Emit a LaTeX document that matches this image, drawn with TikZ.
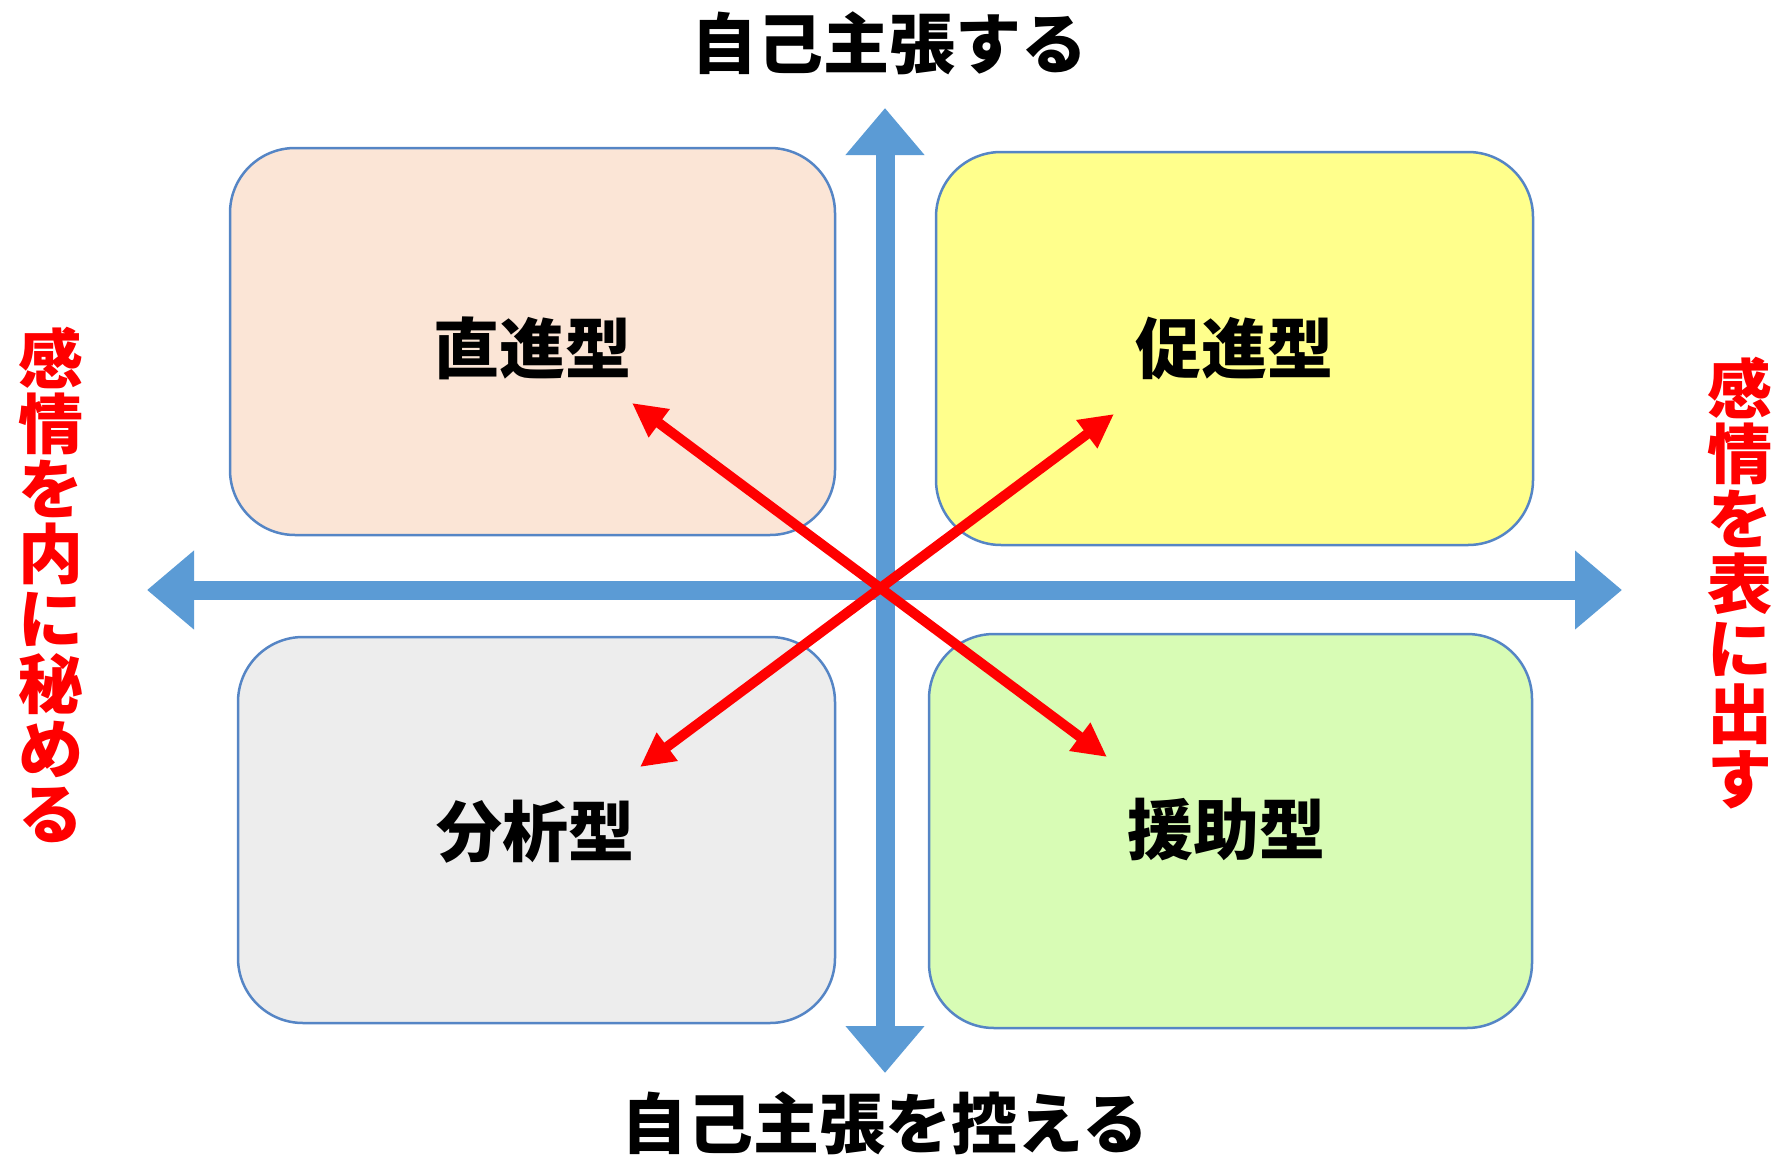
\documentclass[tikz,border=0pt]{standalone}
\usepackage{fontspec}
\newfontfamily\jp{Noto Sans CJK JP}
\usetikzlibrary{arrows.meta}
\definecolor{axisblue}{HTML}{5B9BD5}
\definecolor{boxline}{HTML}{5585C5}
\definecolor{peach}{HTML}{FBE5D6}
\definecolor{lyellow}{HTML}{FFFF8C}
\definecolor{lgray}{HTML}{EDEDED}
\definecolor{lgreen}{HTML}{D8FCB5}
\definecolor{lred}{HTML}{FF0000}
\begin{document}
\begin{tikzpicture}[x=1pt,y=-1pt,
  quad/.style={draw=boxline, line width=2.5pt, rounded corners=65pt, inner sep=0pt},
  lbl/.style={font=\jp\bfseries\fontsize{66}{66}\selectfont, inner sep=0pt},
  side/.style={font=\jp\bfseries\fontsize{65}{65}\selectfont, text=lred, align=center, inner sep=0pt},
  axis/.style={line width=19pt, draw=axisblue, {Triangle[length=47pt,width=76pt]}-{Triangle[length=47pt,width=76pt]}},
  redarrow/.style={line width=10pt, draw=lred, {Triangle[length=34pt,width=33pt]}-{Triangle[length=34pt,width=33pt]}}]
\useasboundingbox (0,0) rectangle (1775,1156);
% quadrant boxes
\node[quad, fill=peach, minimum width=605pt, minimum height=387pt] (tl) at (532.5,341.5) {};
\node[quad, fill=lyellow, minimum width=597pt, minimum height=393pt] (tr) at (1234.5,348.5) {};
\node[quad, fill=lgray, minimum width=597pt, minimum height=386pt] (bl) at (536.5,830) {};
\node[quad, fill=lgreen, minimum width=603pt, minimum height=394pt] (br) at (1230.5,831) {};
% quadrant labels
\node[lbl] (ltl) at (532,348) {直進型};
\node[lbl] (ltr) at (1234,348) {促進型};
\node[lbl] (lbl) at (535,832) {分析型};
\node[lbl] (lbr) at (1226,830) {援助型};
% axes
\coordinate (vtop) at (885,108);
\coordinate (vbot) at (885,1073);
\coordinate (hl) at (147,590);
\coordinate (hr) at (1622,590);
\draw[axis] (vtop) -- (vbot);
\draw[axis] (hl) -- (hr);
% red arrows
\coordinate (r1a) at (632,403);
\coordinate (r1b) at (1107,757);
\coordinate (r2a) at (640,767);
\coordinate (r2b) at (1114,414);
\draw[redarrow] (r1a) -- (r1b);
\draw[redarrow] (r2a) -- (r2b);
% axis texts
\node[lbl] (top) at (889,43) {自己主張する};
\node[lbl] (bottom) at (885,1123) {自己主張を控える};
\node[side] (left) at (51,585) {感\\情\\を\\内\\に\\秘\\め\\る};
\node[side] (right) at (1740,583) {感\\情\\を\\表\\に\\出\\す};
\end{tikzpicture}
\end{document}
